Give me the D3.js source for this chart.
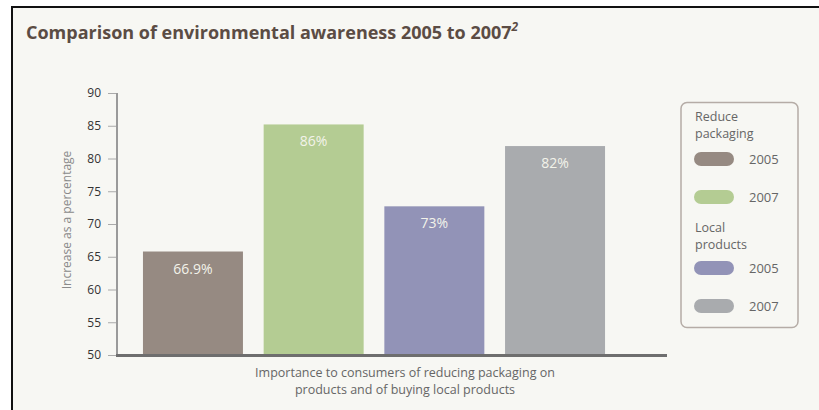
<!DOCTYPE html>
<html>
<head>
<meta charset="utf-8">
<script src="https://cdn.jsdelivr.net/npm/d3@7"></script>
<style>
  html, body { margin: 0; padding: 0; background: #ffffff; }
  svg { display: block; }
  text { font-family: "Open Sans", "DejaVu Sans", sans-serif; }
</style>
</head>
<body>
<svg id="chart" width="819" height="410"></svg>
<script>
// ---- data ----
const categories = ["Reduce packaging 2005", "Reduce packaging 2007", "Local products 2005", "Local products 2007"];
const barValues = [65.8, 85.2, 72.7, 81.9];
const barLabels = ["66.9%", "86%", "73%", "82%"];
const barColors = ["#968a82", "#b4cc93", "#9293b7", "#a9abae"];
const yTicks = [50, 55, 60, 65, 70, 75, 80, 85, 90];
const legendGroups = [
  { title: ["Reduce", "packaging"], items: ["2005", "2007"] },
  { title: ["Local", "products"], items: ["2005", "2007"] }
];
const titleText = "Comparison of environmental awareness 2005 to 2007";
const titleSup = "2";
const yAxisTitle = "Increase as a percentage";
const xAxisTitle = ["Importance to consumers of reducing packaging on", "products and of buying local products"];

const svg = d3.select("#chart");

// background panel + border
svg.append("rect").attr("x", 12).attr("y", 6).attr("width", 807).attr("height", 404).attr("fill", "#f7f7f3");
svg.append("line").attr("x1", 12).attr("x2", 819).attr("y1", 7).attr("y2", 7).attr("stroke", "#111").attr("stroke-width", 2);
svg.append("line").attr("x1", 12).attr("x2", 12).attr("y1", 6).attr("y2", 410).attr("stroke", "#111").attr("stroke-width", 2);

// title
const t = svg.append("text").attr("x", 26).attr("y", 39)
  .attr("fill", "#5b4c44").attr("font-size", 18).attr("font-weight", "bold");
t.append("tspan").text(titleText);
t.append("tspan").text(titleSup).attr("font-size", 12).attr("dy", -8).attr("font-style", "italic");

// scales
const y = d3.scaleLinear().domain([50, 90]).range([355, 93]);
const x = d3.scaleBand().domain(categories).range([132.6, 615.4]).paddingInner(0.1715).paddingOuter(0.0858);

// y axis
const yAxis = d3.axisLeft(y).tickValues(yTicks).tickSize(9).tickPadding(7);
const gy = svg.append("g").attr("transform", "translate(117,0)").call(yAxis);
gy.select(".domain").remove();
gy.selectAll(".tick line").attr("stroke", "#aaa").attr("stroke-width", 1);
gy.selectAll(".tick text").attr("fill", "#333").attr("font-size", 12)
  .attr("font-family", "'Open Sans', sans-serif");
svg.append("line").attr("x1", 117).attr("x2", 117).attr("y1", y(90)).attr("y2", y(50))
  .attr("stroke", "#9a9a9a").attr("stroke-width", 2);

// bars
svg.selectAll("rect.bar").data(categories).enter().append("rect").attr("class", "bar")
  .attr("x", d => x(d)).attr("width", x.bandwidth())
  .attr("y", (d, i) => y(barValues[i])).attr("height", (d, i) => y(50) - y(barValues[i]))
  .attr("fill", (d, i) => barColors[i]);

svg.selectAll("text.barlabel").data(categories).enter().append("text").attr("class", "barlabel")
  .attr("x", d => x(d) + x.bandwidth() / 2)
  .attr("y", (d, i) => y(barValues[i]) + 22)
  .attr("text-anchor", "middle").attr("fill", "#f3f3ea").attr("font-size", 14)
  .text((d, i) => barLabels[i]);

// x axis baseline
svg.append("line").attr("x1", 116).attr("x2", 667).attr("y1", 355.5).attr("y2", 355.5)
  .attr("stroke", "#6e6e6e").attr("stroke-width", 3);

// axis titles
svg.append("text").attr("transform", "translate(71,220) rotate(-90)")
  .attr("text-anchor", "middle").attr("fill", "#8a8a8a").attr("font-size", 12).text(yAxisTitle);
svg.append("g").selectAll("text").data(xAxisTitle).enter().append("text")
  .attr("x", 405).attr("y", (d, i) => 377 + i * 16.5)
  .attr("text-anchor", "middle").attr("fill", "#666").attr("font-size", 12.5).text(d => d);

// legend
svg.append("rect").attr("x", 681).attr("y", 102.5).attr("width", 117).attr("height", 225)
  .attr("rx", 6).attr("fill", "none").attr("stroke", "#b5aca6").attr("stroke-width", 1.5);
const legendLayout = [
  { titleY: 121, itemY: [159, 197] },
  { titleY: 232, itemY: [268, 306] }
];
let ci = 0;
legendGroups.forEach((g, gi) => {
  const L = legendLayout[gi];
  g.title.forEach((line, li) => {
    svg.append("text").attr("x", 695).attr("y", L.titleY + li * 16.5)
      .attr("fill", "#666").attr("font-size", 12.5).text(line);
  });
  g.items.forEach((item, ii) => {
    const cy = L.itemY[ii];
    svg.append("rect").attr("x", 694).attr("y", cy - 7).attr("width", 40).attr("height", 14)
      .attr("rx", 7).attr("fill", barColors[ci]);
    svg.append("text").attr("x", 749).attr("y", cy + 5).attr("fill", "#666").attr("font-size", 13).text(item);
    ci++;
  });
});
</script>
</body>
</html>
